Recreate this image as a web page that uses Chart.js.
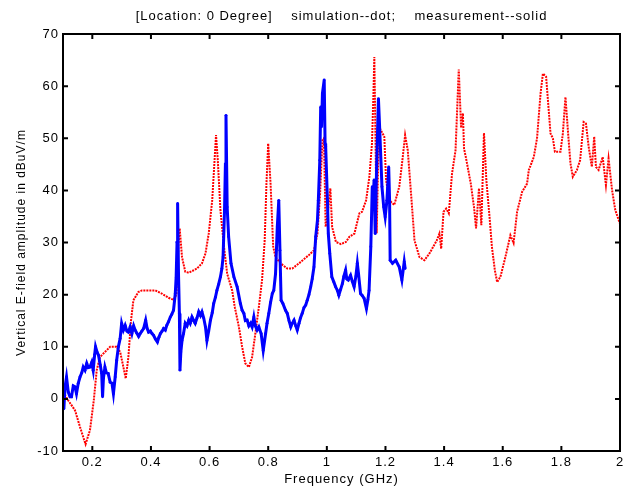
<!DOCTYPE html>
<html>
<head>
<meta charset="utf-8">
<script src="https://cdn.jsdelivr.net/npm/chart.js@4/dist/chart.umd.min.js"></script>
<style>
  body { margin: 0; background: #fff; }
  #chart { display: block; }
</style>
</head>
<body>
<canvas id="chart" width="630" height="487"></canvas>
<script>
// simulation (red, dotted)
var simFreq = [0.100, 0.118, 0.141, 0.158, 0.177, 0.192, 0.205, 0.215, 0.226, 0.243, 0.261, 0.283, 0.295, 0.306, 0.314, 0.323, 0.332, 0.340, 0.357, 0.369, 0.415, 0.437, 0.460, 0.477, 0.487, 0.494, 0.498, 0.506, 0.517, 0.529, 0.557, 0.574, 0.586, 0.597, 0.609, 0.617, 0.622, 0.628, 0.637, 0.648, 0.660, 0.677, 0.686, 0.700, 0.711, 0.722, 0.734, 0.745, 0.756, 0.768, 0.779, 0.788, 0.794, 0.800, 0.808, 0.817, 0.825, 0.842, 0.865, 0.882, 0.905, 0.939, 0.956, 0.968, 0.977, 0.985, 0.990, 0.996, 1.004, 1.012, 1.018, 1.031, 1.048, 1.065, 1.077, 1.094, 1.111, 1.120, 1.134, 1.145, 1.154, 1.159, 1.162, 1.166, 1.170, 1.175, 1.181, 1.196, 1.202, 1.213, 1.230, 1.247, 1.259, 1.267, 1.276, 1.288, 1.299, 1.316, 1.333, 1.350, 1.375, 1.384, 1.390, 1.398, 1.407, 1.416, 1.427, 1.439, 1.450, 1.458, 1.464, 1.468, 1.474, 1.491, 1.502, 1.509, 1.519, 1.527, 1.536, 1.544, 1.555, 1.563, 1.573, 1.581, 1.592, 1.609, 1.626, 1.637, 1.649, 1.666, 1.683, 1.689, 1.706, 1.717, 1.729, 1.737, 1.748, 1.763, 1.771, 1.778, 1.797, 1.805, 1.814, 1.823, 1.831, 1.839, 1.853, 1.864, 1.876, 1.884, 1.893, 1.904, 1.912, 1.918, 1.927, 1.941, 1.952, 1.961, 1.973, 1.984, 2.000];
var simVal = [1.3, -0.3, -2.2, -5.4, -8.7, -6.0, -0.3, 5.5, 8.0, 9.0, 10.0, 10.0, 9.0, 6.1, 3.9, 8.0, 15.0, 18.9, 20.5, 20.8, 20.8, 20.2, 19.4, 19.0, 20.0, 30.0, 32.7, 27.2, 24.4, 24.2, 25.0, 26.0, 27.9, 31.7, 38.1, 45.8, 50.6, 45.8, 36.2, 29.8, 24.0, 20.8, 17.6, 13.8, 10.0, 6.8, 6.1, 8.0, 12.5, 17.6, 22.8, 30.4, 41.3, 49.0, 41.3, 29.2, 27.2, 26.0, 25.0, 25.0, 26.0, 27.6, 28.5, 31.7, 39.4, 49.6, 50.0, 33.0, 36.0, 40.4, 33.0, 30.1, 29.7, 30.1, 31.1, 31.7, 35.6, 35.9, 38.1, 42.6, 49.0, 58.6, 65.6, 50.0, 31.8, 45.0, 51.9, 50.3, 42.0, 38.1, 37.2, 40.7, 46.4, 50.6, 47.7, 38.8, 30.4, 27.2, 26.6, 27.9, 30.4, 31.7, 28.8, 35.9, 36.5, 35.6, 43.2, 47.7, 63.2, 52.0, 54.8, 48.0, 46.4, 41.3, 36.8, 32.7, 40.4, 33.3, 51.0, 42.0, 34.9, 29.2, 24.7, 22.4, 23.4, 27.2, 31.4, 29.9, 35.9, 39.7, 41.3, 43.9, 46.4, 50.0, 58.6, 62.4, 61.8, 50.9, 50.0, 47.4, 47.4, 50.9, 57.9, 50.9, 45.2, 42.6, 43.9, 45.8, 53.1, 52.8, 48.4, 44.5, 50.3, 44.5, 43.9, 46.4, 41.0, 46.1, 40.0, 36.2, 33.6];

// measurement (blue, solid)
var measFreq = [0.100, 0.103, 0.107, 0.112, 0.118, 0.124, 0.129, 0.135, 0.141, 0.146, 0.152, 0.158, 0.164, 0.169, 0.175, 0.181, 0.186, 0.192, 0.198, 0.203, 0.208, 0.211, 0.216, 0.221, 0.227, 0.232, 0.235, 0.238, 0.243, 0.248, 0.254, 0.261, 0.267, 0.272, 0.278, 0.283, 0.289, 0.295, 0.300, 0.306, 0.312, 0.318, 0.323, 0.329, 0.335, 0.341, 0.346, 0.352, 0.358, 0.363, 0.369, 0.375, 0.382, 0.387, 0.392, 0.398, 0.404, 0.409, 0.415, 0.422, 0.427, 0.432, 0.438, 0.443, 0.449, 0.454, 0.460, 0.466, 0.471, 0.477, 0.483, 0.486, 0.489, 0.491, 0.494, 0.497, 0.499, 0.502, 0.506, 0.511, 0.517, 0.523, 0.529, 0.534, 0.540, 0.546, 0.551, 0.557, 0.563, 0.569, 0.574, 0.580, 0.586, 0.591, 0.597, 0.603, 0.609, 0.614, 0.620, 0.625, 0.631, 0.637, 0.642, 0.646, 0.651, 0.654, 0.656, 0.660, 0.665, 0.673, 0.683, 0.694, 0.705, 0.711, 0.717, 0.722, 0.728, 0.734, 0.740, 0.745, 0.751, 0.756, 0.762, 0.768, 0.776, 0.783, 0.791, 0.796, 0.802, 0.808, 0.814, 0.819, 0.825, 0.831, 0.836, 0.840, 0.844, 0.850, 0.859, 0.865, 0.871, 0.877, 0.882, 0.888, 0.894, 0.899, 0.905, 0.910, 0.916, 0.922, 0.928, 0.933, 0.939, 0.945, 0.950, 0.956, 0.962, 0.968, 0.971, 0.976, 0.979, 0.982, 0.985, 0.991, 0.994, 0.996, 1.002, 1.005, 1.010, 1.017, 1.024, 1.030, 1.036, 1.041, 1.047, 1.053, 1.058, 1.064, 1.068, 1.073, 1.081, 1.087, 1.093, 1.099, 1.104, 1.108, 1.115, 1.121, 1.127, 1.135, 1.140, 1.144, 1.150, 1.155, 1.158, 1.161, 1.165, 1.170, 1.176, 1.180, 1.188, 1.194, 1.199, 1.205, 1.211, 1.214, 1.216, 1.224, 1.235, 1.247, 1.256, 1.264, 1.267];
var measVal = [-0.3, -1.9, 2.3, 4.2, 1.3, 0.4, 0.4, 2.5, 2.3, 1.0, 3.0, 4.2, 5.0, 6.1, 5.5, 6.8, 6.0, 6.1, 7.0, 5.5, 8.5, 10.0, 9.0, 8.4, 6.5, 4.9, 0.4, 4.0, 6.1, 5.0, 4.9, 3.2, 3.0, 1.0, 4.2, 7.4, 10.0, 11.6, 14.5, 13.2, 14.1, 13.0, 12.8, 13.8, 12.5, 14.0, 13.2, 12.6, 12.0, 12.5, 13.0, 13.5, 15.1, 13.5, 12.8, 13.0, 12.5, 12.2, 11.5, 10.9, 11.8, 12.5, 13.0, 13.5, 13.2, 14.1, 14.8, 15.7, 16.2, 17.0, 20.2, 23.4, 30.0, 37.5, 24.0, 16.4, 5.5, 9.0, 11.2, 12.5, 14.5, 14.0, 15.1, 14.5, 15.7, 15.0, 14.5, 15.5, 16.7, 16.0, 16.7, 15.5, 13.8, 11.2, 13.0, 15.1, 16.5, 18.3, 19.5, 20.8, 22.0, 23.4, 25.0, 27.2, 36.2, 45.0, 54.4, 36.8, 31.1, 26.0, 23.4, 21.5, 18.3, 17.0, 16.4, 15.0, 15.1, 14.0, 14.5, 13.8, 15.7, 14.0, 13.2, 13.8, 12.5, 9.3, 12.5, 14.5, 16.4, 18.5, 20.2, 20.8, 24.0, 33.0, 38.1, 28.5, 18.9, 18.3, 17.0, 16.4, 15.0, 13.8, 14.5, 15.1, 14.0, 13.2, 14.5, 15.5, 16.4, 17.5, 18.0, 18.9, 20.0, 21.5, 23.0, 25.3, 31.1, 34.3, 38.1, 45.8, 56.0, 52.2, 58.6, 61.2, 49.0, 48.4, 38.1, 31.7, 27.9, 23.4, 22.4, 21.5, 20.8, 19.9, 21.0, 22.1, 23.5, 24.7, 23.0, 22.8, 23.7, 22.5, 21.5, 23.5, 26.0, 24.0, 20.2, 19.8, 19.3, 17.3, 19.0, 20.8, 29.2, 40.7, 37.5, 42.0, 31.7, 45.0, 57.6, 52.2, 40.7, 36.8, 34.9, 38.1, 44.5, 38.1, 26.6, 26.0, 26.6, 25.3, 22.8, 26.3, 25.0];

var xTicks = [0.2, 0.4, 0.6, 0.8, 1, 1.2, 1.4, 1.6, 1.8, 2];
var yTicks = [-10, 0, 10, 20, 30, 40, 50, 60, 70];

function toPoints(xs, ys) {
    return xs.map(function (x, i) { return { x: x, y: ys[i] }; });
}

// the original text is spaced a little wider than Arial
function spaceLetters(chart) {
    chart.ctx.letterSpacing = '1px';
}

// black frame with inward ticks on all four sides
var framePlugin = {
    id: 'frame',
    beforeUpdate: spaceLetters,
    beforeLayout: spaceLetters,
    beforeDraw: spaceLetters,
    afterDraw: function (chart) {
        var ctx = chart.ctx, a = chart.chartArea;
        var xs = chart.scales.x, ys = chart.scales.y;
        var len = 5;
        ctx.save();
        ctx.strokeStyle = '#000';
        ctx.lineWidth = 2;
        ctx.strokeRect(a.left, a.top, a.right - a.left, a.bottom - a.top);
        ctx.beginPath();
        xTicks.forEach(function (t) {
            var px = xs.getPixelForValue(t);
            ctx.moveTo(px, a.bottom); ctx.lineTo(px, a.bottom - len);
            ctx.moveTo(px, a.top); ctx.lineTo(px, a.top + len);
        });
        yTicks.forEach(function (t) {
            var py = ys.getPixelForValue(t);
            ctx.moveTo(a.left, py); ctx.lineTo(a.left + len, py);
            ctx.moveTo(a.right, py); ctx.lineTo(a.right - len, py);
        });
        ctx.stroke();
        ctx.restore();
    }
};

Chart.defaults.font.family = '"Liberation Sans", Arial, sans-serif';
Chart.defaults.font.size = 13;
Chart.defaults.color = '#000';

new Chart(document.getElementById('chart'), {
    type: 'line',
    data: {
        datasets: [
            {
                label: 'measurement',
                data: toPoints(measFreq, measVal),
                borderColor: '#0000ff',
                backgroundColor: '#0000ff',
                borderWidth: 3,
                pointRadius: 1.4,
                pointBorderWidth: 0,
                tension: 0,
                fill: false
            },
            {
                label: 'simulation',
                data: toPoints(simFreq, simVal),
                borderColor: '#ff0000',
                borderWidth: 2,
                borderDash: [2, 1],
                pointRadius: 0,
                tension: 0,
                fill: false
            }
        ]
    },
    options: {
        responsive: false,
        animation: false,
        layout: { padding: { left: 0, right: 10, top: 0, bottom: 0 } },
        plugins: {
            legend: { display: false },
            tooltip: { enabled: false },
            title: {
                display: true,
                fullSize: false,
                text: '[Location: 0 Degree]    simulation--dot;    measurement--solid',
                font: { size: 13, weight: 'normal' },
                color: '#000',
                padding: { top: 9, bottom: 9.4 }
            }
        },
        scales: {
            x: {
                type: 'linear',
                min: 0.1,
                max: 2,
                grid: { display: false, drawTicks: false },
                border: { display: false },
                afterBuildTicks: function (s) {
                    s.ticks = xTicks.map(function (v) { return { value: v }; });
                },
                afterFit: function (s) { s.height = 36; },
                ticks: {
                    padding: 4,
                    maxRotation: 0,
                    callback: function (v) { return String(Number(v.toFixed(1))); }
                },
                title: {
                    display: true,
                    text: 'Frequency (GHz)',
                    padding: { top: 0, bottom: 0 }
                }
            },
            y: {
                min: -10,
                max: 70,
                grid: { display: false, drawTicks: false },
                border: { display: false },
                afterBuildTicks: function (s) {
                    s.ticks = yTicks.map(function (v) { return { value: v }; });
                },
                afterFit: function (s) { s.width = 63; },
                ticks: { padding: 4 },
                title: {
                    display: true,
                    text: 'Vertical E-field amplitude in dBuV/m',
                    font: { size: 12 },
                    padding: { top: 14, bottom: 0 }
                }
            }
        }
    },
    plugins: [framePlugin]
});
</script>
</body>
</html>
